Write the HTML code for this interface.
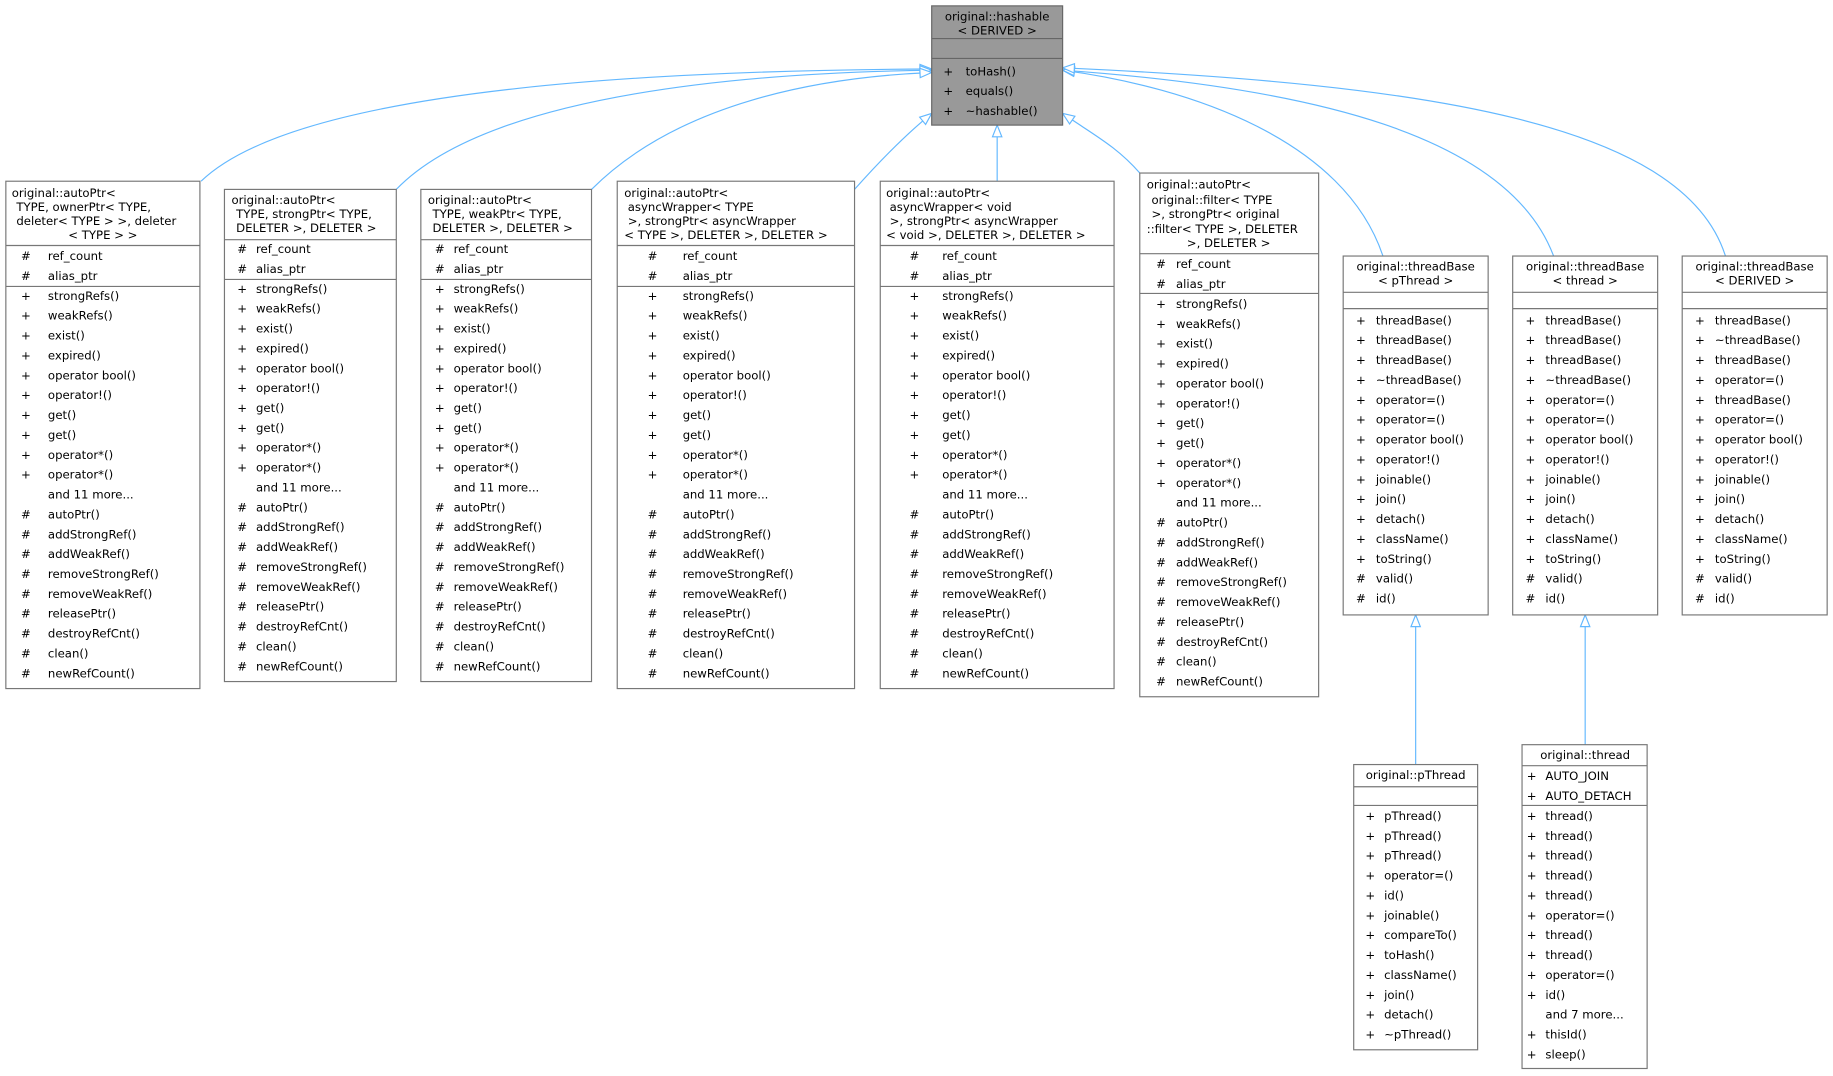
<!DOCTYPE html>
<html><head><meta charset="utf-8"><style>
html,body{margin:0;padding:0;background:#fff;}
svg{display:block;}
text{font-family:"DejaVu Sans","Liberation Sans",sans-serif;font-size:10px;fill:#000;dominant-baseline:central;}
.b{fill:#fff;stroke:#777;stroke-width:1;}
.l{stroke:#777;stroke-width:1;}
.e{fill:none;stroke:#63b8ff;stroke-width:1;}
.m{text-anchor:middle;}
</style></head><body>
<svg width="1833" height="1076" viewBox="0 0 1568 920.4" xmlns="http://www.w3.org/2000/svg">
<defs><marker id="a" markerWidth="12" markerHeight="10" refX="11" refY="5" orient="auto" markerUnits="userSpaceOnUse"><path d="M1,1 L11,5 L1,9 Z" fill="#fff" stroke="#63b8ff" stroke-width="1"/></marker></defs>

<!-- edges -->
<path class="e" marker-end="url(#a)" d="M172,155 C260,70 600,60 797,59"/>
<path class="e" marker-end="url(#a)" d="M339,162 C420,78 650,62 797,60"/>
<path class="e" marker-end="url(#a)" d="M506,162 C580,88 700,66 797,62"/>
<path class="e" marker-end="url(#a)" d="M731,162 C755,135 775,115 797,97"/>
<path class="e" marker-end="url(#a)" d="M853,155 L853,107"/>
<path class="e" marker-end="url(#a)" d="M975,148 C955,125 935,115 909,97"/>
<path class="e" marker-end="url(#a)" d="M1183,219 C1150,120 1020,75 909,60"/>
<path class="e" marker-end="url(#a)" d="M1329,219 C1290,115 1120,75 909,60"/>
<path class="e" marker-end="url(#a)" d="M1476,219 C1440,105 1220,72 909,58"/>
<path class="e" marker-end="url(#a)" d="M1211,654 L1211,526"/>
<path class="e" marker-end="url(#a)" d="M1356,637 L1356,526"/>

<!-- hashable -->
<rect x="797" y="5" width="112" height="102" fill="#999" stroke="#666"/>
<line class="l" x1="797" y1="33" x2="909" y2="33" style="stroke:#666"/>
<line class="l" x1="797" y1="50" x2="909" y2="50" style="stroke:#666"/>
<text class="m" x="853" y="14">original::hashable</text>
<text class="m" x="853" y="26">&lt; DERIVED &gt;</text>
<text x="807" y="61"><tspan x="807" dy="0">+</tspan><tspan x="807" dy="17">+</tspan><tspan x="807" dy="17">+</tspan></text>
<text x="826" y="61"><tspan x="826" dy="0">toHash()</tspan><tspan x="826" dy="17">equals()</tspan><tspan x="826" dy="17">~hashable()</tspan></text>

<!-- A ownerPtr -->
<rect class="b" x="5" y="155" width="166" height="434"/>
<line class="l" x1="5" y1="210" x2="171" y2="210"/><line class="l" x1="5" y1="245" x2="171" y2="245"/>
<text x="10" y="165">original::autoPtr&lt;</text>
<text x="14" y="177">TYPE, ownerPtr&lt; TYPE,</text>
<text x="14" y="189">deleter&lt; TYPE &gt; &gt;, deleter</text>
<text class="m" x="88" y="201">&lt; TYPE &gt; &gt;</text>
<text x="18" y="219"><tspan x="18" dy="0">#</tspan><tspan x="18" dy="17">#</tspan></text>
<text x="41" y="219"><tspan x="41" dy="0">ref_count</tspan><tspan x="41" dy="17">alias_ptr</tspan></text>
<text x="18" y="253"><tspan x="18" dy="0">+</tspan><tspan x="18" dy="17">+</tspan><tspan x="18" dy="17">+</tspan><tspan x="18" dy="17">+</tspan><tspan x="18" dy="17">+</tspan><tspan x="18" dy="17">+</tspan><tspan x="18" dy="17">+</tspan><tspan x="18" dy="17">+</tspan><tspan x="18" dy="17">+</tspan><tspan x="18" dy="17">+</tspan><tspan x="18" dy="34">#</tspan><tspan x="18" dy="17">#</tspan><tspan x="18" dy="17">#</tspan><tspan x="18" dy="17">#</tspan><tspan x="18" dy="17">#</tspan><tspan x="18" dy="17">#</tspan><tspan x="18" dy="17">#</tspan><tspan x="18" dy="17">#</tspan><tspan x="18" dy="17">#</tspan></text>
<text x="41" y="253"><tspan x="41" dy="0">strongRefs()</tspan><tspan x="41" dy="17">weakRefs()</tspan><tspan x="41" dy="17">exist()</tspan><tspan x="41" dy="17">expired()</tspan><tspan x="41" dy="17">operator bool()</tspan><tspan x="41" dy="17">operator!()</tspan><tspan x="41" dy="17">get()</tspan><tspan x="41" dy="17">get()</tspan><tspan x="41" dy="17">operator*()</tspan><tspan x="41" dy="17">operator*()</tspan><tspan x="41" dy="17">and 11 more...</tspan><tspan x="41" dy="17">autoPtr()</tspan><tspan x="41" dy="17">addStrongRef()</tspan><tspan x="41" dy="17">addWeakRef()</tspan><tspan x="41" dy="17">removeStrongRef()</tspan><tspan x="41" dy="17">removeWeakRef()</tspan><tspan x="41" dy="17">releasePtr()</tspan><tspan x="41" dy="17">destroyRefCnt()</tspan><tspan x="41" dy="17">clean()</tspan><tspan x="41" dy="17">newRefCount()</tspan></text>

<!-- B strongPtr -->
<rect class="b" x="192" y="162" width="147" height="421"/>
<line class="l" x1="192" y1="205" x2="339" y2="205"/><line class="l" x1="192" y1="239" x2="339" y2="239"/>
<text x="198" y="171">original::autoPtr&lt;</text>
<text x="202" y="183">TYPE, strongPtr&lt; TYPE,</text>
<text x="202" y="195">DELETER &gt;, DELETER &gt;</text>
<text x="203" y="213"><tspan x="203" dy="0">#</tspan><tspan x="203" dy="17">#</tspan></text>
<text x="219" y="213"><tspan x="219" dy="0">ref_count</tspan><tspan x="219" dy="17">alias_ptr</tspan></text>
<text x="203" y="247"><tspan x="203" dy="0">+</tspan><tspan x="203" dy="17">+</tspan><tspan x="203" dy="17">+</tspan><tspan x="203" dy="17">+</tspan><tspan x="203" dy="17">+</tspan><tspan x="203" dy="17">+</tspan><tspan x="203" dy="17">+</tspan><tspan x="203" dy="17">+</tspan><tspan x="203" dy="17">+</tspan><tspan x="203" dy="17">+</tspan><tspan x="203" dy="34">#</tspan><tspan x="203" dy="17">#</tspan><tspan x="203" dy="17">#</tspan><tspan x="203" dy="17">#</tspan><tspan x="203" dy="17">#</tspan><tspan x="203" dy="17">#</tspan><tspan x="203" dy="17">#</tspan><tspan x="203" dy="17">#</tspan><tspan x="203" dy="17">#</tspan></text>
<text x="219" y="247"><tspan x="219" dy="0">strongRefs()</tspan><tspan x="219" dy="17">weakRefs()</tspan><tspan x="219" dy="17">exist()</tspan><tspan x="219" dy="17">expired()</tspan><tspan x="219" dy="17">operator bool()</tspan><tspan x="219" dy="17">operator!()</tspan><tspan x="219" dy="17">get()</tspan><tspan x="219" dy="17">get()</tspan><tspan x="219" dy="17">operator*()</tspan><tspan x="219" dy="17">operator*()</tspan><tspan x="219" dy="17">and 11 more...</tspan><tspan x="219" dy="17">autoPtr()</tspan><tspan x="219" dy="17">addStrongRef()</tspan><tspan x="219" dy="17">addWeakRef()</tspan><tspan x="219" dy="17">removeStrongRef()</tspan><tspan x="219" dy="17">removeWeakRef()</tspan><tspan x="219" dy="17">releasePtr()</tspan><tspan x="219" dy="17">destroyRefCnt()</tspan><tspan x="219" dy="17">clean()</tspan><tspan x="219" dy="17">newRefCount()</tspan></text>

<!-- C weakPtr -->
<rect class="b" x="360" y="162" width="146" height="421"/>
<line class="l" x1="360" y1="205" x2="506" y2="205"/><line class="l" x1="360" y1="239" x2="506" y2="239"/>
<text x="366" y="171">original::autoPtr&lt;</text>
<text x="370" y="183">TYPE, weakPtr&lt; TYPE,</text>
<text x="370" y="195">DELETER &gt;, DELETER &gt;</text>
<text x="372" y="213"><tspan x="372" dy="0">#</tspan><tspan x="372" dy="17">#</tspan></text>
<text x="388" y="213"><tspan x="388" dy="0">ref_count</tspan><tspan x="388" dy="17">alias_ptr</tspan></text>
<text x="372" y="247"><tspan x="372" dy="0">+</tspan><tspan x="372" dy="17">+</tspan><tspan x="372" dy="17">+</tspan><tspan x="372" dy="17">+</tspan><tspan x="372" dy="17">+</tspan><tspan x="372" dy="17">+</tspan><tspan x="372" dy="17">+</tspan><tspan x="372" dy="17">+</tspan><tspan x="372" dy="17">+</tspan><tspan x="372" dy="17">+</tspan><tspan x="372" dy="34">#</tspan><tspan x="372" dy="17">#</tspan><tspan x="372" dy="17">#</tspan><tspan x="372" dy="17">#</tspan><tspan x="372" dy="17">#</tspan><tspan x="372" dy="17">#</tspan><tspan x="372" dy="17">#</tspan><tspan x="372" dy="17">#</tspan><tspan x="372" dy="17">#</tspan></text>
<text x="388" y="247"><tspan x="388" dy="0">strongRefs()</tspan><tspan x="388" dy="17">weakRefs()</tspan><tspan x="388" dy="17">exist()</tspan><tspan x="388" dy="17">expired()</tspan><tspan x="388" dy="17">operator bool()</tspan><tspan x="388" dy="17">operator!()</tspan><tspan x="388" dy="17">get()</tspan><tspan x="388" dy="17">get()</tspan><tspan x="388" dy="17">operator*()</tspan><tspan x="388" dy="17">operator*()</tspan><tspan x="388" dy="17">and 11 more...</tspan><tspan x="388" dy="17">autoPtr()</tspan><tspan x="388" dy="17">addStrongRef()</tspan><tspan x="388" dy="17">addWeakRef()</tspan><tspan x="388" dy="17">removeStrongRef()</tspan><tspan x="388" dy="17">removeWeakRef()</tspan><tspan x="388" dy="17">releasePtr()</tspan><tspan x="388" dy="17">destroyRefCnt()</tspan><tspan x="388" dy="17">clean()</tspan><tspan x="388" dy="17">newRefCount()</tspan></text>

<!-- D asyncWrapper TYPE -->
<rect class="b" x="528" y="155" width="203" height="434"/>
<line class="l" x1="528" y1="210" x2="731" y2="210"/><line class="l" x1="528" y1="245" x2="731" y2="245"/>
<text x="534" y="165">original::autoPtr&lt;</text>
<text x="537" y="177">asyncWrapper&lt; TYPE</text>
<text x="537" y="189">&gt;, strongPtr&lt; asyncWrapper</text>
<text x="534" y="201">&lt; TYPE &gt;, DELETER &gt;, DELETER &gt;</text>
<text x="554" y="219"><tspan x="554" dy="0">#</tspan><tspan x="554" dy="17">#</tspan></text>
<text x="584" y="219"><tspan x="584" dy="0">ref_count</tspan><tspan x="584" dy="17">alias_ptr</tspan></text>
<text x="554" y="253"><tspan x="554" dy="0">+</tspan><tspan x="554" dy="17">+</tspan><tspan x="554" dy="17">+</tspan><tspan x="554" dy="17">+</tspan><tspan x="554" dy="17">+</tspan><tspan x="554" dy="17">+</tspan><tspan x="554" dy="17">+</tspan><tspan x="554" dy="17">+</tspan><tspan x="554" dy="17">+</tspan><tspan x="554" dy="17">+</tspan><tspan x="554" dy="34">#</tspan><tspan x="554" dy="17">#</tspan><tspan x="554" dy="17">#</tspan><tspan x="554" dy="17">#</tspan><tspan x="554" dy="17">#</tspan><tspan x="554" dy="17">#</tspan><tspan x="554" dy="17">#</tspan><tspan x="554" dy="17">#</tspan><tspan x="554" dy="17">#</tspan></text>
<text x="584" y="253"><tspan x="584" dy="0">strongRefs()</tspan><tspan x="584" dy="17">weakRefs()</tspan><tspan x="584" dy="17">exist()</tspan><tspan x="584" dy="17">expired()</tspan><tspan x="584" dy="17">operator bool()</tspan><tspan x="584" dy="17">operator!()</tspan><tspan x="584" dy="17">get()</tspan><tspan x="584" dy="17">get()</tspan><tspan x="584" dy="17">operator*()</tspan><tspan x="584" dy="17">operator*()</tspan><tspan x="584" dy="17">and 11 more...</tspan><tspan x="584" dy="17">autoPtr()</tspan><tspan x="584" dy="17">addStrongRef()</tspan><tspan x="584" dy="17">addWeakRef()</tspan><tspan x="584" dy="17">removeStrongRef()</tspan><tspan x="584" dy="17">removeWeakRef()</tspan><tspan x="584" dy="17">releasePtr()</tspan><tspan x="584" dy="17">destroyRefCnt()</tspan><tspan x="584" dy="17">clean()</tspan><tspan x="584" dy="17">newRefCount()</tspan></text>

<!-- E asyncWrapper void -->
<rect class="b" x="753" y="155" width="200" height="434"/>
<line class="l" x1="753" y1="210" x2="953" y2="210"/><line class="l" x1="753" y1="245" x2="953" y2="245"/>
<text x="758" y="165">original::autoPtr&lt;</text>
<text x="761" y="177">asyncWrapper&lt; void</text>
<text x="761" y="189">&gt;, strongPtr&lt; asyncWrapper</text>
<text x="758" y="201">&lt; void &gt;, DELETER &gt;, DELETER &gt;</text>
<text x="778" y="219"><tspan x="778" dy="0">#</tspan><tspan x="778" dy="17">#</tspan></text>
<text x="806" y="219"><tspan x="806" dy="0">ref_count</tspan><tspan x="806" dy="17">alias_ptr</tspan></text>
<text x="778" y="253"><tspan x="778" dy="0">+</tspan><tspan x="778" dy="17">+</tspan><tspan x="778" dy="17">+</tspan><tspan x="778" dy="17">+</tspan><tspan x="778" dy="17">+</tspan><tspan x="778" dy="17">+</tspan><tspan x="778" dy="17">+</tspan><tspan x="778" dy="17">+</tspan><tspan x="778" dy="17">+</tspan><tspan x="778" dy="17">+</tspan><tspan x="778" dy="34">#</tspan><tspan x="778" dy="17">#</tspan><tspan x="778" dy="17">#</tspan><tspan x="778" dy="17">#</tspan><tspan x="778" dy="17">#</tspan><tspan x="778" dy="17">#</tspan><tspan x="778" dy="17">#</tspan><tspan x="778" dy="17">#</tspan><tspan x="778" dy="17">#</tspan></text>
<text x="806" y="253"><tspan x="806" dy="0">strongRefs()</tspan><tspan x="806" dy="17">weakRefs()</tspan><tspan x="806" dy="17">exist()</tspan><tspan x="806" dy="17">expired()</tspan><tspan x="806" dy="17">operator bool()</tspan><tspan x="806" dy="17">operator!()</tspan><tspan x="806" dy="17">get()</tspan><tspan x="806" dy="17">get()</tspan><tspan x="806" dy="17">operator*()</tspan><tspan x="806" dy="17">operator*()</tspan><tspan x="806" dy="17">and 11 more...</tspan><tspan x="806" dy="17">autoPtr()</tspan><tspan x="806" dy="17">addStrongRef()</tspan><tspan x="806" dy="17">addWeakRef()</tspan><tspan x="806" dy="17">removeStrongRef()</tspan><tspan x="806" dy="17">removeWeakRef()</tspan><tspan x="806" dy="17">releasePtr()</tspan><tspan x="806" dy="17">destroyRefCnt()</tspan><tspan x="806" dy="17">clean()</tspan><tspan x="806" dy="17">newRefCount()</tspan></text>

<!-- F filter -->
<rect class="b" x="975" y="148" width="153" height="448"/>
<line class="l" x1="975" y1="217" x2="1128" y2="217"/><line class="l" x1="975" y1="251" x2="1128" y2="251"/>
<text x="981" y="158">original::autoPtr&lt;</text>
<text x="985" y="171">original::filter&lt; TYPE</text>
<text x="985" y="183">&gt;, strongPtr&lt; original</text>
<text x="981" y="196">::filter&lt; TYPE &gt;, DELETER</text>
<text class="m" x="1051" y="208">&gt;, DELETER &gt;</text>
<text x="989" y="226"><tspan x="989" dy="0">#</tspan><tspan x="989" dy="17">#</tspan></text>
<text x="1006" y="226"><tspan x="1006" dy="0">ref_count</tspan><tspan x="1006" dy="17">alias_ptr</tspan></text>
<text x="989" y="260"><tspan x="989" dy="0">+</tspan><tspan x="989" dy="17">+</tspan><tspan x="989" dy="17">+</tspan><tspan x="989" dy="17">+</tspan><tspan x="989" dy="17">+</tspan><tspan x="989" dy="17">+</tspan><tspan x="989" dy="17">+</tspan><tspan x="989" dy="17">+</tspan><tspan x="989" dy="17">+</tspan><tspan x="989" dy="17">+</tspan><tspan x="989" dy="34">#</tspan><tspan x="989" dy="17">#</tspan><tspan x="989" dy="17">#</tspan><tspan x="989" dy="17">#</tspan><tspan x="989" dy="17">#</tspan><tspan x="989" dy="17">#</tspan><tspan x="989" dy="17">#</tspan><tspan x="989" dy="17">#</tspan><tspan x="989" dy="17">#</tspan></text>
<text x="1006" y="260"><tspan x="1006" dy="0">strongRefs()</tspan><tspan x="1006" dy="17">weakRefs()</tspan><tspan x="1006" dy="17">exist()</tspan><tspan x="1006" dy="17">expired()</tspan><tspan x="1006" dy="17">operator bool()</tspan><tspan x="1006" dy="17">operator!()</tspan><tspan x="1006" dy="17">get()</tspan><tspan x="1006" dy="17">get()</tspan><tspan x="1006" dy="17">operator*()</tspan><tspan x="1006" dy="17">operator*()</tspan><tspan x="1006" dy="17">and 11 more...</tspan><tspan x="1006" dy="17">autoPtr()</tspan><tspan x="1006" dy="17">addStrongRef()</tspan><tspan x="1006" dy="17">addWeakRef()</tspan><tspan x="1006" dy="17">removeStrongRef()</tspan><tspan x="1006" dy="17">removeWeakRef()</tspan><tspan x="1006" dy="17">releasePtr()</tspan><tspan x="1006" dy="17">destroyRefCnt()</tspan><tspan x="1006" dy="17">clean()</tspan><tspan x="1006" dy="17">newRefCount()</tspan></text>

<!-- G threadBase<pThread> -->
<rect class="b" x="1149" y="219" width="124" height="307"/>
<line class="l" x1="1149" y1="250" x2="1273" y2="250"/><line class="l" x1="1149" y1="264" x2="1273" y2="264"/>
<text class="m" x="1211" y="228">original::threadBase</text>
<text class="m" x="1211" y="240">&lt; pThread &gt;</text>
<text x="1160" y="274"><tspan x="1160" dy="0">+</tspan><tspan x="1160" dy="17">+</tspan><tspan x="1160" dy="17">+</tspan><tspan x="1160" dy="17">+</tspan><tspan x="1160" dy="17">+</tspan><tspan x="1160" dy="17">+</tspan><tspan x="1160" dy="17">+</tspan><tspan x="1160" dy="17">+</tspan><tspan x="1160" dy="17">+</tspan><tspan x="1160" dy="17">+</tspan><tspan x="1160" dy="17">+</tspan><tspan x="1160" dy="17">+</tspan><tspan x="1160" dy="17">+</tspan><tspan x="1160" dy="17">#</tspan><tspan x="1160" dy="17">#</tspan></text>
<text x="1177" y="274"><tspan x="1177" dy="0">threadBase()</tspan><tspan x="1177" dy="17">threadBase()</tspan><tspan x="1177" dy="17">threadBase()</tspan><tspan x="1177" dy="17">~threadBase()</tspan><tspan x="1177" dy="17">operator=()</tspan><tspan x="1177" dy="17">operator=()</tspan><tspan x="1177" dy="17">operator bool()</tspan><tspan x="1177" dy="17">operator!()</tspan><tspan x="1177" dy="17">joinable()</tspan><tspan x="1177" dy="17">join()</tspan><tspan x="1177" dy="17">detach()</tspan><tspan x="1177" dy="17">className()</tspan><tspan x="1177" dy="17">toString()</tspan><tspan x="1177" dy="17">valid()</tspan><tspan x="1177" dy="17">id()</tspan></text>

<!-- H threadBase<thread> -->
<rect class="b" x="1294" y="219" width="124" height="307"/>
<line class="l" x1="1294" y1="250" x2="1418" y2="250"/><line class="l" x1="1294" y1="264" x2="1418" y2="264"/>
<text class="m" x="1356" y="228">original::threadBase</text>
<text class="m" x="1356" y="240">&lt; thread &gt;</text>
<text x="1305" y="274"><tspan x="1305" dy="0">+</tspan><tspan x="1305" dy="17">+</tspan><tspan x="1305" dy="17">+</tspan><tspan x="1305" dy="17">+</tspan><tspan x="1305" dy="17">+</tspan><tspan x="1305" dy="17">+</tspan><tspan x="1305" dy="17">+</tspan><tspan x="1305" dy="17">+</tspan><tspan x="1305" dy="17">+</tspan><tspan x="1305" dy="17">+</tspan><tspan x="1305" dy="17">+</tspan><tspan x="1305" dy="17">+</tspan><tspan x="1305" dy="17">+</tspan><tspan x="1305" dy="17">#</tspan><tspan x="1305" dy="17">#</tspan></text>
<text x="1322" y="274"><tspan x="1322" dy="0">threadBase()</tspan><tspan x="1322" dy="17">threadBase()</tspan><tspan x="1322" dy="17">threadBase()</tspan><tspan x="1322" dy="17">~threadBase()</tspan><tspan x="1322" dy="17">operator=()</tspan><tspan x="1322" dy="17">operator=()</tspan><tspan x="1322" dy="17">operator bool()</tspan><tspan x="1322" dy="17">operator!()</tspan><tspan x="1322" dy="17">joinable()</tspan><tspan x="1322" dy="17">join()</tspan><tspan x="1322" dy="17">detach()</tspan><tspan x="1322" dy="17">className()</tspan><tspan x="1322" dy="17">toString()</tspan><tspan x="1322" dy="17">valid()</tspan><tspan x="1322" dy="17">id()</tspan></text>

<!-- I threadBase<DERIVED> -->
<rect class="b" x="1439" y="219" width="124" height="307"/>
<line class="l" x1="1439" y1="250" x2="1563" y2="250"/><line class="l" x1="1439" y1="264" x2="1563" y2="264"/>
<text class="m" x="1501" y="228">original::threadBase</text>
<text class="m" x="1501" y="240">&lt; DERIVED &gt;</text>
<text x="1450" y="274"><tspan x="1450" dy="0">+</tspan><tspan x="1450" dy="17">+</tspan><tspan x="1450" dy="17">+</tspan><tspan x="1450" dy="17">+</tspan><tspan x="1450" dy="17">+</tspan><tspan x="1450" dy="17">+</tspan><tspan x="1450" dy="17">+</tspan><tspan x="1450" dy="17">+</tspan><tspan x="1450" dy="17">+</tspan><tspan x="1450" dy="17">+</tspan><tspan x="1450" dy="17">+</tspan><tspan x="1450" dy="17">+</tspan><tspan x="1450" dy="17">+</tspan><tspan x="1450" dy="17">#</tspan><tspan x="1450" dy="17">#</tspan></text>
<text x="1467" y="274"><tspan x="1467" dy="0">threadBase()</tspan><tspan x="1467" dy="17">~threadBase()</tspan><tspan x="1467" dy="17">threadBase()</tspan><tspan x="1467" dy="17">operator=()</tspan><tspan x="1467" dy="17">threadBase()</tspan><tspan x="1467" dy="17">operator=()</tspan><tspan x="1467" dy="17">operator bool()</tspan><tspan x="1467" dy="17">operator!()</tspan><tspan x="1467" dy="17">joinable()</tspan><tspan x="1467" dy="17">join()</tspan><tspan x="1467" dy="17">detach()</tspan><tspan x="1467" dy="17">className()</tspan><tspan x="1467" dy="17">toString()</tspan><tspan x="1467" dy="17">valid()</tspan><tspan x="1467" dy="17">id()</tspan></text>

<!-- J pThread -->
<rect class="b" x="1158" y="654" width="106" height="244"/>
<line class="l" x1="1158" y1="673" x2="1264" y2="673"/><line class="l" x1="1158" y1="689" x2="1264" y2="689"/>
<text class="m" x="1211" y="663">original::pThread</text>
<text x="1168" y="698"><tspan x="1168" dy="0">+</tspan><tspan x="1168" dy="17">+</tspan><tspan x="1168" dy="17">+</tspan><tspan x="1168" dy="17">+</tspan><tspan x="1168" dy="17">+</tspan><tspan x="1168" dy="17">+</tspan><tspan x="1168" dy="17">+</tspan><tspan x="1168" dy="17">+</tspan><tspan x="1168" dy="17">+</tspan><tspan x="1168" dy="17">+</tspan><tspan x="1168" dy="17">+</tspan><tspan x="1168" dy="17">+</tspan></text>
<text x="1184" y="698"><tspan x="1184" dy="0">pThread()</tspan><tspan x="1184" dy="17">pThread()</tspan><tspan x="1184" dy="17">pThread()</tspan><tspan x="1184" dy="17">operator=()</tspan><tspan x="1184" dy="17">id()</tspan><tspan x="1184" dy="17">joinable()</tspan><tspan x="1184" dy="17">compareTo()</tspan><tspan x="1184" dy="17">toHash()</tspan><tspan x="1184" dy="17">className()</tspan><tspan x="1184" dy="17">join()</tspan><tspan x="1184" dy="17">detach()</tspan><tspan x="1184" dy="17">~pThread()</tspan></text>

<!-- K thread -->
<rect class="b" x="1302" y="637" width="107" height="277"/>
<line class="l" x1="1302" y1="655" x2="1409" y2="655"/><line class="l" x1="1302" y1="689" x2="1409" y2="689"/>
<text class="m" x="1356" y="646">original::thread</text>
<text x="1306" y="664"><tspan x="1306" dy="0">+</tspan><tspan x="1306" dy="17">+</tspan></text>
<text x="1322" y="664"><tspan x="1322" dy="0">AUTO_JOIN</tspan><tspan x="1322" dy="17">AUTO_DETACH</tspan></text>
<text x="1306" y="698"><tspan x="1306" dy="0">+</tspan><tspan x="1306" dy="17">+</tspan><tspan x="1306" dy="17">+</tspan><tspan x="1306" dy="17">+</tspan><tspan x="1306" dy="17">+</tspan><tspan x="1306" dy="17">+</tspan><tspan x="1306" dy="17">+</tspan><tspan x="1306" dy="17">+</tspan><tspan x="1306" dy="17">+</tspan><tspan x="1306" dy="17">+</tspan><tspan x="1306" dy="34">+</tspan><tspan x="1306" dy="17">+</tspan></text>
<text x="1322" y="698"><tspan x="1322" dy="0">thread()</tspan><tspan x="1322" dy="17">thread()</tspan><tspan x="1322" dy="17">thread()</tspan><tspan x="1322" dy="17">thread()</tspan><tspan x="1322" dy="17">thread()</tspan><tspan x="1322" dy="17">operator=()</tspan><tspan x="1322" dy="17">thread()</tspan><tspan x="1322" dy="17">thread()</tspan><tspan x="1322" dy="17">operator=()</tspan><tspan x="1322" dy="17">id()</tspan><tspan x="1322" dy="17">and 7 more...</tspan><tspan x="1322" dy="17">thisId()</tspan><tspan x="1322" dy="17">sleep()</tspan></text>
</svg>
</body></html>
